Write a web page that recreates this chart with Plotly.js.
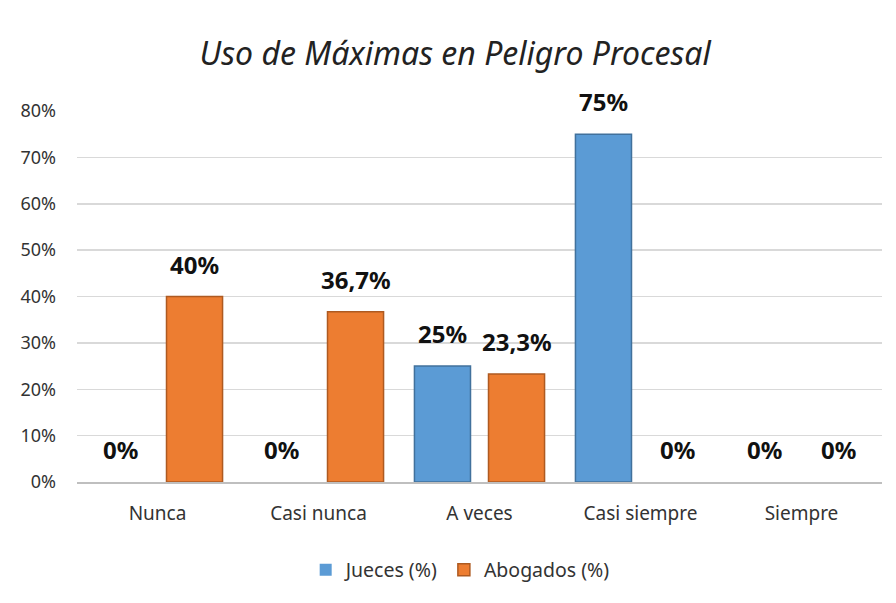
<!DOCTYPE html>
<html><head><meta charset="utf-8">
<script src="https://cdn.plot.ly/plotly-3.0.1.min.js"></script>
<style>html,body{margin:0;padding:0;background:#fff}#c{width:896px;height:603px}</style>
</head><body><div id="c"></div>
<script>
const categories = ["Nunca", "Casi nunca", "A veces", "Casi siempre", "Siempre"];
const jueces = [0, 0, 25, 75, 0];
const abogados = [40, 36.7, 23.3, 0, 0];
const juecesLabels = ["0%", "0%", "25%", "75%", "0%"];
const abogadosLabels = ["40%", "36,7%", "23,3%", "0%", "0%"];
const yTicks = [0, 10, 20, 30, 40, 50, 60, 70, 80];
const yTickText = ["0%", "10%", "20%", "30%", "40%", "50%", "60%", "70%", "80%"];

const FONT = "Noto Sans, Open Sans, sans-serif";
const bargap = 0.08;
const off = (1 - bargap) / 4;

const annotations = [];
categories.forEach((c, i) => {
  annotations.push({x: i - off, y: jueces[i], xref: 'x', yref: 'y', text: '<b>' + juecesLabels[i] + '</b>',
    showarrow: false, yanchor: 'bottom', yshift: 14, font: {family: FONT, size: 24, color: '#111'}});
  annotations.push({x: i + off, y: abogados[i], xref: 'x', yref: 'y', text: '<b>' + abogadosLabels[i] + '</b>',
    showarrow: false, yanchor: 'bottom', yshift: 14, font: {family: FONT, size: 24, color: '#111'}});
});

const lw = arr => arr.map(v => v === 0 ? 0 : 1.5);

const data = [
  {type: 'bar', name: 'Jueces (%)', x: categories, y: jueces,
   marker: {color: '#5B9BD5', line: {color: '#41719C', width: lw(jueces)}}},
  {type: 'bar', name: 'Abogados (%)', x: categories, y: abogados,
   marker: {color: '#ED7D31', line: {color: '#AE5A21', width: lw(abogados)}}}
];

const layout = {
  width: 896, height: 603,
  margin: {l: 77, r: 14, t: 111, b: 121},
  paper_bgcolor: '#fff', plot_bgcolor: '#fff',
  barmode: 'group', bargap: bargap, bargroupgap: 0.243,
  title: {text: '<i>Uso de Máximas en Peligro Procesal</i>', x: 0.508, xanchor: 'center', y: 0.91, yanchor: 'middle',
    font: {family: FONT, size: 32, color: '#222'}},
  xaxis: {type: 'category', tickfont: {family: FONT, size: 19, color: '#333'}, showgrid: false,
    showline: true, linecolor: '#bfbfbf', linewidth: 1.5, ticks: '', ticklabelstandoff: 14},
  yaxis: {range: [0, 80], tickvals: yTicks, ticktext: yTickText, showgrid: true, gridcolor: '#d9d9d9', gridwidth: 1.5,
    zeroline: false, showline: false, ticks: '', tickfont: {family: FONT, size: 18, color: '#333'}, ticklabelstandoff: 20},
  legend: {orientation: 'h', x: 0.476, xanchor: 'center', y: -0.185, yanchor: 'top',
    font: {family: FONT, size: 19.5, color: '#333'}, itemwidth: 30},
  annotations: annotations,
  showlegend: true
};

Plotly.newPlot('c', data, layout, {displayModeBar: false, staticPlot: true});
</script></body></html>
